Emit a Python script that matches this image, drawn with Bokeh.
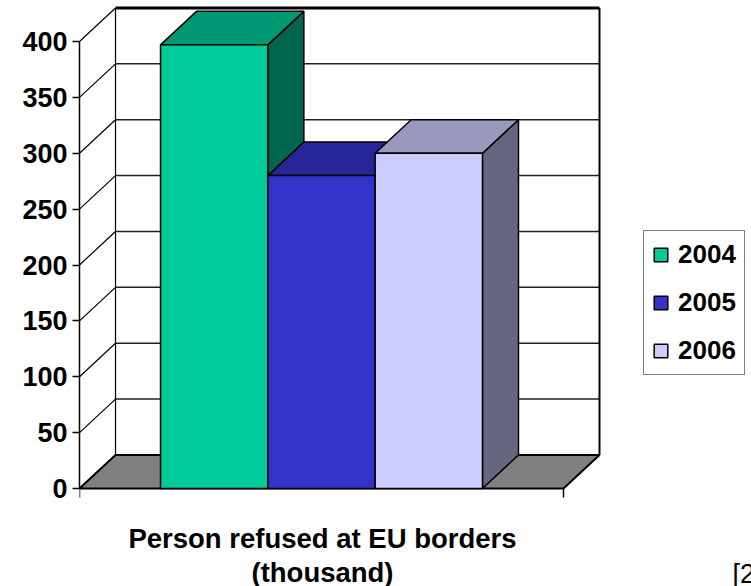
from bokeh.plotting import figure
from bokeh.models import Range1d, Legend, LegendItem, Label, LinearAxis, FixedTicker
from bokeh.embed import file_html
from bokeh.resources import INLINE

# --- data -------------------------------------------------------------
series = ["2004", "2005", "2006"]
values = [397, 280, 300]                      # thousand persons refused
title_lines = ["Person refused at EU borders", "(thousand)"]
y_ticks = [0, 50, 100, 150, 200, 250, 300, 350, 400]

front_colors = ["#00CC99", "#3333CC", "#CCCCFF"]
top_colors = ["#009973", "#262699", "#9999BF"]
side_colors = ["#00664D", "#1A1A66", "#666680"]

# --- 3-D box geometry (category units along x, value units along y) ----
Y_MAX = 400
DX = 0.0744          # depth offset along x
DY = 30.0            # depth offset along y
GAP = 0.1674         # empty space on each side of the bar group
BAR_W = (1 - 2 * GAP) / 3

W, H = 751, 586
LEFT = 79            # width of the value-axis panel
PX_X = 484.0         # pixels per category unit
PX_Y = 1.1175        # pixels per value unit
ZERO_PX = 488        # screen row of value 0

FONT = "Liberation Sans"

p = figure(width=W, height=H, output_backend="svg", toolbar_location=None,
           x_range=Range1d(0, (W - LEFT) / PX_X),
           y_range=Range1d(-(H - ZERO_PX) / PX_Y, ZERO_PX / PX_Y),
           x_axis_location=None, y_axis_location=None,
           min_border_left=LEFT, min_border_right=0,
           min_border_top=0, min_border_bottom=0)
p.outline_line_color = None
p.background_fill_color = "white"
p.border_fill_color = "white"
p.xgrid.visible = False
p.ygrid.visible = False

# value axis on the front-left edge
yaxis = LinearAxis(ticker=FixedTicker(ticks=y_ticks), bounds=(0, Y_MAX))
yaxis.axis_line_color = "black"
yaxis.axis_line_width = 1.5
yaxis.major_tick_line_color = "black"
yaxis.major_tick_line_width = 1.5
yaxis.major_tick_out = 7
yaxis.major_tick_in = 0
yaxis.minor_tick_line_color = None
yaxis.major_label_standoff = 5
yaxis.major_label_text_font = FONT
yaxis.major_label_text_font_style = "bold"
yaxis.major_label_text_font_size = "27px"
yaxis.major_label_text_color = "black"
p.add_layout(yaxis, "left")

# back wall
p.quad(left=DX, right=1 + DX, bottom=DY, top=Y_MAX + DY,
       fill_color="white", line_color=None)
grid_vals = y_ticks[1:-1]
p.segment(x0=[DX] * len(grid_vals), y0=[v + DY for v in grid_vals],
          x1=[1 + DX] * len(grid_vals), y1=[v + DY for v in grid_vals],
          line_color="#202020", line_width=1.5)
# left-wall diagonals from each front tick to the back wall
p.segment(x0=[0] * (len(y_ticks) - 1), y0=y_ticks[1:],
          x1=[DX] * (len(y_ticks) - 1), y1=[v + DY for v in y_ticks[1:]],
          line_color="black", line_width=1.2)
p.segment(x0=[DX], y0=[DY], x1=[DX], y1=[Y_MAX + DY],
          line_color="black", line_width=1.2)
p.segment(x0=[1 + DX], y0=[DY], x1=[1 + DX], y1=[Y_MAX + DY],
          line_color="black", line_width=2)
p.segment(x0=[DX], y0=[Y_MAX + DY], x1=[1 + DX], y1=[Y_MAX + DY],
          line_color="black", line_width=3)

# floor
p.patch(x=[0, 1, 1 + DX, DX], y=[0, 0, DY, DY],
        fill_color="#808080", line_color="black", line_width=2)
# category axis end ticks
p.segment(x0=[0, 1], y0=[0, 0], x1=[0, 1], y1=[-8, -8],
          line_color="black", line_width=1.5)

# bars, drawn left to right so nearer faces overlap correctly
items = []
for i, (name, v) in enumerate(zip(series, values)):
    x0 = GAP + i * BAR_W
    x1 = x0 + BAR_W
    p.patch(x=[x1, x1 + DX, x1 + DX, x1], y=[0, DY, v + DY, v],
            fill_color=side_colors[i], line_color="black", line_width=1.5)
    p.patch(x=[x0, x1, x1 + DX, x0 + DX], y=[v, v, v + DY, v + DY],
            fill_color=top_colors[i], line_color="black", line_width=1.5)
    r = p.quad(left=x0, right=x1, bottom=0, top=v,
               fill_color=front_colors[i], line_color="black", line_width=1.5)
    items.append(LegendItem(label=name, renderers=[r]))

legend = Legend(items=items, location=(643 - LEFT, H - 375))
legend.border_line_color = "black"
legend.border_line_width = 1.2
legend.background_fill_color = "white"
legend.background_fill_alpha = 1
legend.label_text_font = FONT
legend.label_text_font_style = "bold"
legend.label_text_font_size = "26px"
legend.label_text_color = "black"
legend.glyph_width = 17
legend.glyph_height = 17
legend.label_standoff = 9
legend.padding = 8
legend.spacing = 17
legend.margin = 0
p.add_layout(legend)


def sx(px):
    return (px - LEFT) / PX_X


def sy(py):
    return (ZERO_PX - py) / PX_Y


# category title under the box
for text, base in zip(title_lines, [538, 572]):
    p.add_layout(Label(x=sx(322), y=sy(base), text=text, text_align="center",
                       text_baseline="alphabetic", text_font=FONT,
                       text_font_style="bold", text_font_size="27.5px",
                       text_color="black"))

# citation marker at the right edge
p.add_layout(Label(x=sx(732), y=sy(573), text="[2", text_align="left",
                   text_baseline="alphabetic", text_font=FONT,
                   text_font_size="27px", text_color="black"))

open("out.html", "w").write(file_html(p, INLINE))
